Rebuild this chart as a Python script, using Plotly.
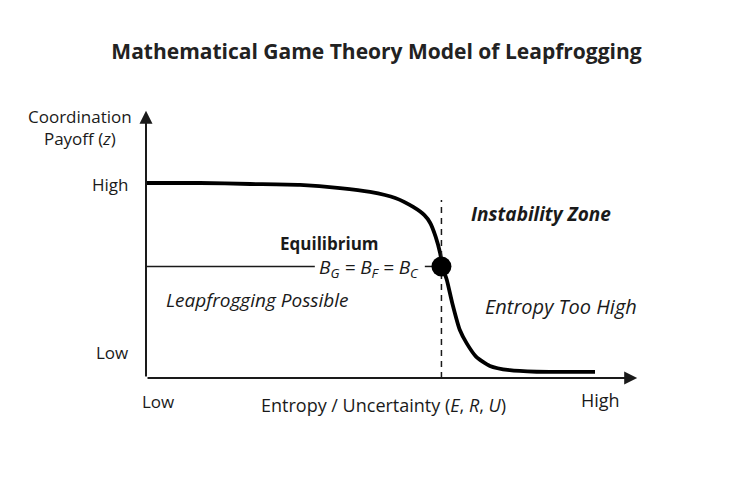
import plotly.graph_objects as go

# Curve: coordination payoff vs entropy (conceptual units, 0..10)
curve_x = [0, 1.2, 2.32, 3.43, 4.32, 4.99, 5.55, 5.95, 6.20, 6.33, 6.45, 6.55, 6.60, 6.70, 6.82, 6.99, 7.15, 7.35, 7.66, 8.10, 8.70, 9.40, 10]
curve_y = [10, 10, 9.95, 9.90, 9.74, 9.54, 9.23, 8.77, 8.35, 7.95, 7.25, 6.41, 5.72, 5.03, 3.85, 2.46, 1.75, 1.10, 0.62, 0.40, 0.32, 0.31, 0.31]

eq_x = [6.58]
eq_y = [5.72]

ylab_high = 9.9
ylab_low = 1.33
x_axis_end = 10.94
y_axis_end = 13.7
dashed_top = 9.13
ref_line_end = 3.76
ref_dash = [6.21, 6.39]

FONT = "Open Sans"
INK = "#1a1a1a"

fig = go.Figure()

fig.add_trace(go.Scatter(x=curve_x, y=curve_y, mode="lines",
                         line=dict(color="black", width=3.8, shape="spline", smoothing=0.6),
                         hoverinfo="skip", showlegend=False))

# dashed vertical at equilibrium
fig.add_trace(go.Scatter(x=[eq_x[0], eq_x[0]], y=[0, dashed_top], mode="lines",
                         line=dict(color=INK, width=1.5, dash="6px,5px"),
                         hoverinfo="skip", showlegend=False))

# horizontal reference line
fig.add_trace(go.Scatter(x=[0, ref_line_end], y=[eq_y[0], eq_y[0]], mode="lines",
                         line=dict(color=INK, width=1.5), hoverinfo="skip", showlegend=False))
fig.add_trace(go.Scatter(x=ref_dash, y=[eq_y[0], eq_y[0]], mode="lines",
                         line=dict(color=INK, width=1.5), hoverinfo="skip", showlegend=False))

fig.add_trace(go.Scatter(x=eq_x, y=eq_y, mode="markers",
                         marker=dict(color="black", size=20), hoverinfo="skip", showlegend=False))

anns = []
# axes arrows
anns.append(dict(x=x_axis_end, y=0, ax=0, ay=0, xref="x", yref="y", axref="x", ayref="y",
                 showarrow=True, arrowhead=2, arrowsize=1.3, arrowwidth=2, arrowcolor=INK, text=""))
anns.append(dict(x=0, y=y_axis_end, ax=0, ay=0, xref="x", yref="y", axref="x", ayref="y",
                 showarrow=True, arrowhead=2, arrowsize=1.3, arrowwidth=2, arrowcolor=INK, text=""))


def txt(x, y, t, size=17, xanchor="center", bold=False, italic=False):
    if bold:
        t = "<b>" + t + "</b>"
    if italic:
        t = "<i>" + t + "</i>"
    anns.append(dict(x=x, y=y, xref="x", yref="y", text=t, showarrow=False,
                     xanchor=xanchor, yanchor="middle",
                     font=dict(family=FONT, size=size, color=INK)))


txt(-1.47, 12.87, "Coordination<br>Payoff (<i>z</i>)", size=17)
txt(-0.36, ylab_high, "High", xanchor="right")
txt(-0.36, ylab_low, "Low", xanchor="right")
txt(0.27, -1.18, "Low")
txt(5.30, -1.38, "Entropy / Uncertainty (<i>E</i>, <i>R</i>, <i>U</i>)", size=18)
txt(10.13, -1.13, "High", size=18)
txt(4.08, 6.92, "Equilibrium", size=17, bold=True)
txt(4.97, 5.62, "<i>B<sub>G</sub> = B<sub>F</sub> = B<sub>C</sub></i>", size=19)
txt(8.80, 8.41, "Instability Zone", size=19, bold=True, italic=True)
txt(2.49, 4.0, "Leapfrogging Possible", size=19, italic=True)
txt(9.24, 3.69, "Entropy Too High", size=20, italic=True)

fig.update_layout(
    width=753, height=502,
    margin=dict(l=0, r=0, t=0, b=0),
    paper_bgcolor="white", plot_bgcolor="white",
    title=dict(text="<b>Mathematical Game Theory Model of Leapfrogging</b>",
               x=0.5, xanchor="center", y=1 - 52 / 502, yanchor="middle",
               font=dict(family=FONT, size=21, color="#222222")),
    xaxis=dict(range=[-146 / 44.9, (753 - 146) / 44.9], visible=False, fixedrange=True),
    yaxis=dict(range=[(378 - 502) / 19.5, 378 / 19.5], visible=False, fixedrange=True),
    annotations=anns,
    showlegend=False,
)

fig.write_html("out.html", config={"displayModeBar": False},
               post_script="document.body.style.margin='0px';")
